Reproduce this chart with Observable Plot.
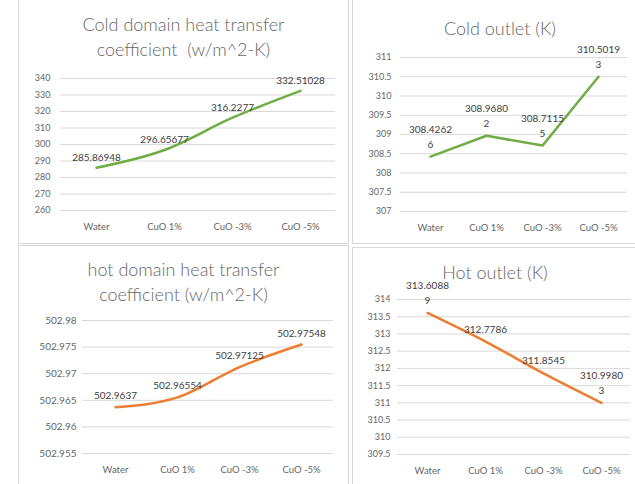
<!DOCTYPE html>
<html><head><meta charset="utf-8">
<script src="https://cdn.jsdelivr.net/npm/d3@7"></script>
<script src="https://cdn.jsdelivr.net/npm/@observablehq/plot@0.6"></script>
<style>
body{margin:0;background:#fff;}
#root{position:relative;width:635px;height:484px;overflow:hidden;font-family:Lato,"Liberation Sans",sans-serif;}
.panel{position:absolute;border:1px solid #d9d9d9;box-sizing:border-box;}
.title{position:absolute;text-align:center;color:#666;font-size:18px;font-weight:300;line-height:25px;z-index:2;white-space:pre;}
.chart{position:absolute;z-index:1;}
</style></head><body><div id="root"></div>
<script>
const categories = ["Water", "CuO 1%", "CuO -3%", "CuO -5%"];
const coldHtc = [285.86948, 296.65677, 316.2277, 332.51028];
const coldOutlet = [308.42626, 308.96802, 308.71155, 310.50193];
const hotHtc = [502.9637, 502.96554, 502.97125, 502.97548];
const hotOutlet = [313.60889, 312.7786, 311.8545, 310.99803];
const coldHtcTicks = [260, 270, 280, 290, 300, 310, 320, 330, 340];
const coldOutletTicks = [307, 307.5, 308, 308.5, 309, 309.5, 310, 310.5, 311];
const hotHtcTicks = [502.955, 502.96, 502.965, 502.97, 502.975, 502.98];
const hotOutletTicks = [309.5, 310, 310.5, 311, 311.5, 312, 312.5, 313, 313.5, 314];

const root = document.getElementById("root");
function add(el, css) { Object.assign(el.style, css); root.appendChild(el); return el; }
function panel(l, t, w, h) { const d = document.createElement("div"); d.className = "panel"; add(d, {left: l+"px", top: t+"px", width: w+"px", height: h+"px"}); }
function title(text, l, t, w) { const d = document.createElement("div"); d.className = "title"; d.textContent = text; add(d, {left: l+"px", top: t+"px", width: w+"px"}); }
function wrap(v, n) { const s = String(v); return n && s.length > n ? s.slice(0, n) + "\n" + s.slice(n) : s; }

function chart(o) {
  const data = categories.map((c, i) => ({c, v: o.values[i], label: wrap(o.values[i], o.wrapAt)}));
  const svg = Plot.plot({
    width: o.width, height: o.height,
    marginLeft: o.ml, marginRight: o.mr, marginTop: o.mt, marginBottom: o.mb,
    style: {background: "transparent", fontFamily: "Lato, 'Liberation Sans', sans-serif"},
    x: {type: "point", domain: categories, padding: 0.5},
    y: {domain: [o.ticks[0], o.ticks[o.ticks.length - 1]]},
    marks: [
      Plot.gridY(o.ticks, {stroke: "#d9d9d9", strokeOpacity: 1, strokeWidth: 1}),
      Plot.axisY(o.ticks, {tickSize: 0, tickPadding: o.tp, fontSize: o.tfs || 9, fill: "#666", label: null, tickFormat: d => String(d)}),
      Plot.axisX({tickSize: 0, tickPadding: 13, fontSize: 9.5, fill: "#666", label: null}),
      Plot.line(data, {x: "c", y: "v", stroke: o.color, strokeWidth: 2.5, curve: o.curve}),
      Plot.text(data, {x: "c", y: "v", text: "label", lineAnchor: "bottom", dy: o.dy, fontSize: 10, fill: "#404040", lineHeight: 1.5})
    ]
  });
  add(svg, {position: "absolute", left: o.left + "px", top: o.top + "px", zIndex: 1});
}

panel(18, -2, 331, 246);
panel(352, -2, 290, 246);
panel(18, 245, 331, 250);
panel(352, 247, 290, 250);

title("Cold domain heat transfer\ncoefficient  (w/m^2-K)", 18, 12, 331);
title("Cold outlet (K)", 352, 16, 296);
title("hot domain heat transfer\ncoefficient (w/m^2-K)", 18, 257, 331);
title("Hot outlet (K)", 352, 260, 286);

chart({values: coldHtc, ticks: coldHtcTicks, color: "#70AD47", curve: "monotone-x",
  left: 18, top: 56, width: 330, height: 184, ml: 42, mr: 13, mt: 22, mb: 30, tp: 10, dy: -7});
chart({values: coldOutlet, ticks: coldOutletTicks, color: "#70AD47", curve: "linear", wrapAt: 8,
  left: 352, top: 36, width: 283, height: 204, ml: 48, mr: 8, mt: 21, mb: 29, tp: 9, dy: -9});
chart({values: hotHtc, ticks: hotHtcTicks, color: "#ED7D31", curve: "monotone-x",
  left: 18, top: 290, width: 330, height: 194, ml: 64, mr: 15, mt: 30, mb: 31, tp: 6, tfs: 10, dy: -8});
chart({values: hotOutlet, ticks: hotOutletTicks, color: "#ED7D31", curve: "monotone-x", wrapAt: 8,
  left: 352, top: 270, width: 283, height: 214, ml: 45, mr: 5, mt: 29, mb: 30, tp: 7, dy: -9});
</script>
</body></html>
